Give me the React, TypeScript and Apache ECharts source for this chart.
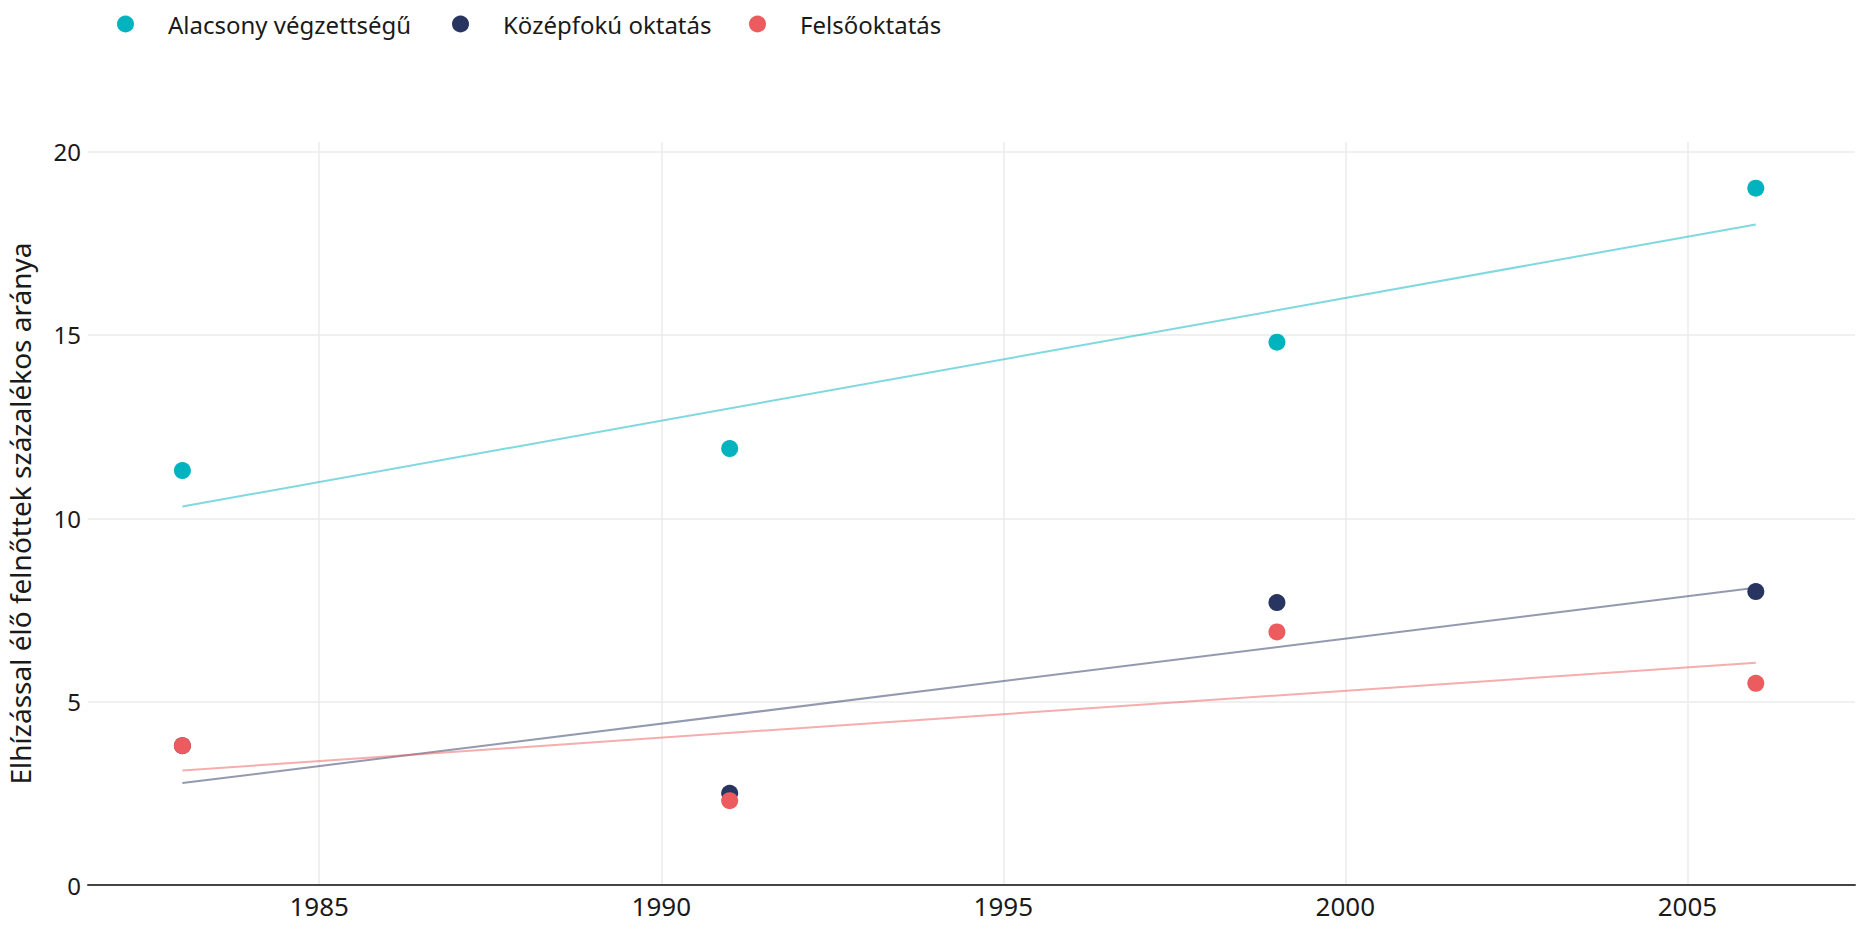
import React, { useEffect, useRef } from "react";
import * as echarts from "echarts";

const years = [1983, 1991, 1999, 2006];
const seriesNames = ["Alacsony végzettségű", "Középfokú oktatás", "Felsőoktatás"];
const lowEdu = [11.3, 11.9, 14.8, 19.0];
const midEdu = [3.8, 2.5, 7.7, 8.0];
const highEdu = [3.8, 2.3, 6.9, 5.5];
const colors = ["#00B3BE", "#283561", "#EC5B5D"];
const yTicks = [0, 5, 10, 15, 20];
const yAxisTitle = "Elhízással élő felnőttek százalékos aránya";

const FONT = "Noto Sans";

function fitLine(xs: number[], ys: number[]) {
  const n = xs.length;
  const mx = xs.reduce((a, b) => a + b, 0) / n;
  const my = ys.reduce((a, b) => a + b, 0) / n;
  let sxy = 0;
  let sxx = 0;
  for (let i = 0; i < n; i++) {
    sxy += (xs[i] - mx) * (ys[i] - my);
    sxx += (xs[i] - mx) * (xs[i] - mx);
  }
  const slope = sxy / sxx;
  const x0 = Math.min(...xs);
  const x1 = Math.max(...xs);
  return [
    [x0, my + slope * (x0 - mx)],
    [x1, my + slope * (x1 - mx)],
  ];
}

export default function App() {
  const ref = useRef<HTMLDivElement>(null);
  useEffect(() => {
    document.body.style.margin = "0";
    if (!ref.current) return;
    const chart = echarts.init(ref.current, undefined, { renderer: "svg" });
    const allData = [lowEdu, midEdu, highEdu];
    const scatterSeries = allData.map((vals, i) => ({
      name: seriesNames[i],
      type: "scatter",
      symbol: "circle",
      symbolSize: 17,
      z: 5,
      itemStyle: { color: colors[i], opacity: 1 },
      data: years.map((y, j) => [y, vals[j]]),
    }));
    const trendSeries = allData.map((vals, i) => ({
      name: seriesNames[i] + " trend",
      type: "line",
      showSymbol: false,
      symbol: "none",
      z: 3,
      lineStyle: { color: colors[i], width: 2, opacity: 0.5 },
      data: fitLine(years, vals),
    }));
    const legendLefts = [112, 447, 744];
    const option: any = {
      animation: false,
      backgroundColor: "#ffffff",
      textStyle: { fontFamily: FONT },
      legend: seriesNames.map((n, i) => ({
        data: [{ name: n, icon: "circle" }],
        left: legendLefts[i],
        top: 7,
        itemWidth: 17,
        itemHeight: 17,
        selectedMode: false,
        textStyle: {
          fontFamily: FONT,
          fontSize: 24,
          color: "#1a1a1a",
          padding: [0, 0, 0, 29],
        },
      })),
      grid: {
        left: 88,
        right: 2,
        top: 142,
        bottom: 44,
        containLabel: false,
        outerBoundsMode: "none",
      },
      xAxis: {
        type: "value",
        min: 1981.62,
        max: 2007.45,
        splitNumber: 5,
        axisLine: { show: true, lineStyle: { color: "#444444", width: 2 } },
        axisTick: { show: false },
        axisLabel: {
          showMinLabel: false,
          showMaxLabel: false,
          margin: 8,
          fontSize: 26,
          color: "#1a1a1a",
          fontFamily: FONT,
          formatter: (v: number) => String(Math.round(v)),
        },
        splitLine: {
          show: true,
          showMinLine: false,
          showMaxLine: false,
          lineStyle: { color: "#ebebeb", width: 1.5 },
        },
      },
      yAxis: {
        type: "value",
        min: yTicks[0],
        max: 20.26,
        interval: yTicks[1] - yTicks[0],
        name: yAxisTitle,
        nameLocation: "middle",
        nameRotate: 90,
        nameGap: 54,
        nameTextStyle: { fontSize: 28, color: "#1a1a1a", fontFamily: FONT },
        axisLine: { show: false },
        axisTick: { show: false },
        axisLabel: {
          showMaxLabel: false,
          margin: 7,
          fontSize: 24,
          color: "#1a1a1a",
          fontFamily: FONT,
        },
        splitLine: {
          show: true,
          showMinLine: false,
          showMaxLine: false,
          lineStyle: { color: "#ebebeb", width: 1.5 },
        },
      },
      series: [...trendSeries, ...scatterSeries],
    };
    chart.setOption(option);
    return () => chart.dispose();
  }, []);
  return <div ref={ref} style={{ width: 1857, height: 929 }} />;
}
